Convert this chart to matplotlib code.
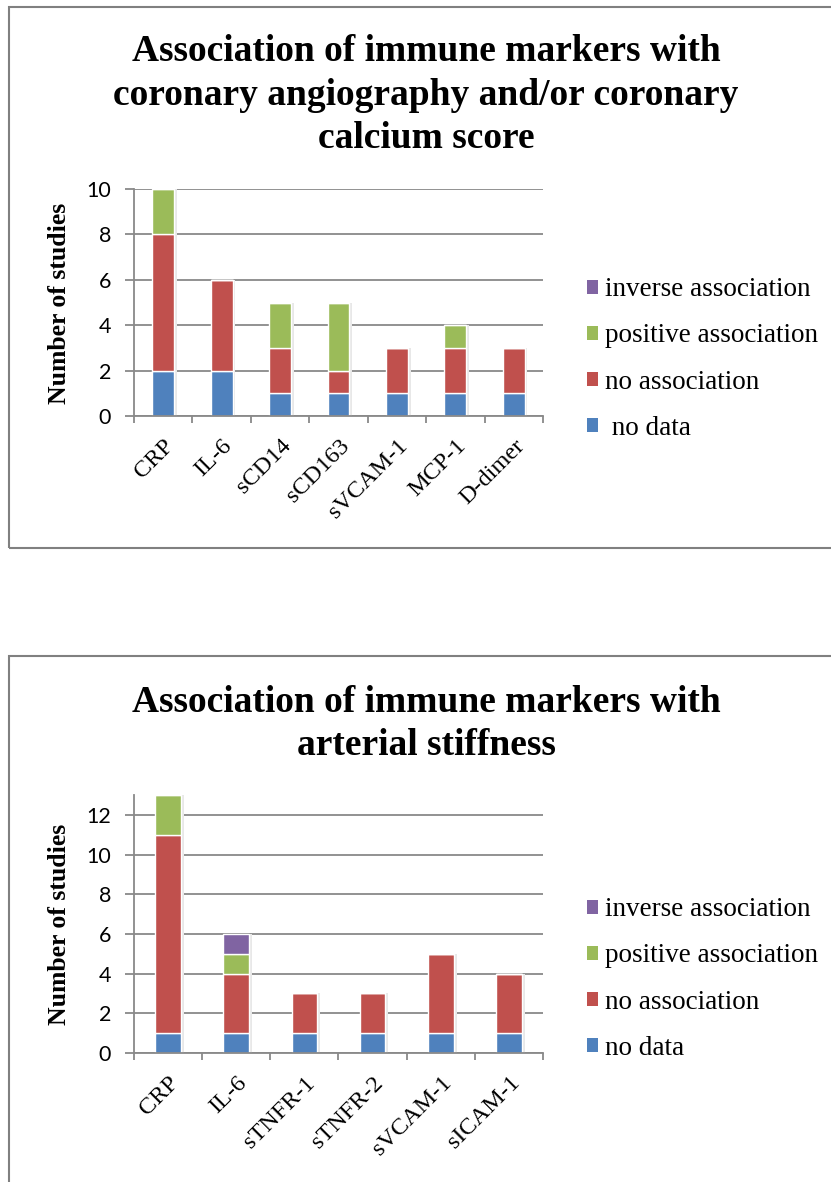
import numpy as np
import matplotlib
matplotlib.use("Agg")
import matplotlib.pyplot as plt
from matplotlib.patches import Patch, Rectangle

# ---- data ----
series_names = ["no data", "no association", "positive association", "inverse association"]
series_colors = ["#4F81BD", "#C0504D", "#9BBB59", "#8064A2"]

cac_markers = ["CRP", "IL-6", "sCD14", "sCD163", "sVCAM-1", "MCP-1", "D-dimer"]
cac_no_data = [2, 2, 1, 1, 1, 1, 1]
cac_no_assoc = [6, 4, 2, 1, 2, 2, 2]
cac_positive = [2, 0, 2, 3, 0, 1, 0]
cac_inverse = [0, 0, 0, 0, 0, 0, 0]

stiff_markers = ["CRP", "IL-6", "sTNFR-1", "sTNFR-2", "sVCAM-1", "sICAM-1"]
stiff_no_data = [1, 1, 1, 1, 1, 1]
stiff_no_assoc = [10, 3, 2, 2, 4, 3]
stiff_positive = [2, 1, 0, 0, 0, 0]
stiff_inverse = [0, 1, 0, 0, 0, 0]

W, H = 831, 1182
SERIF = "Liberation Serif"
SANS = "Lato"
GRID = "#898989"
BAR_W = 0.375

fig = plt.figure(figsize=(W / 100, H / 100), dpi=100)


def rect(x0, x1, ybot, ytop):
    return [x0 / W, 1 - ybot / H, (x1 - x0) / W, (ybot - ytop) / H]


def panel(ax_box, cats, stacks, ymax, yticks, title_lines, title_baselines,
          ylabel_y, legend_y, legend_labels, box_top, box_bottom):
    # outer frame of the panel
    fig.patches.append(Rectangle((9 / W, 1 - box_bottom / H), 1.0,
                                 (box_bottom - box_top) / H,
                                 transform=fig.transFigure, fill=False,
                                 edgecolor="#808080", linewidth=1.5))
    ax = fig.add_axes(ax_box)
    n = len(cats)
    x = np.arange(n)
    totals = np.sum(np.asarray(stacks, dtype=float), axis=0)
    # soft drop shadow to the right of each column
    ax.bar(x + 0.045, totals, width=BAR_W, color="#e8e8e8", linewidth=0,
           zorder=2)
    bottom = np.zeros(n)
    for vals, col in zip(stacks, series_colors):
        vals = np.asarray(vals, dtype=float)
        ax.bar(x, vals, width=BAR_W, bottom=bottom, color=col,
               edgecolor="white", linewidth=1.0, zorder=3)
        bottom += vals
    ax.set_xlim(-0.5, n - 0.5)
    ax.set_ylim(0, ymax)
    ax.set_yticks(yticks)
    ax.set_yticklabels([str(t) for t in yticks], fontsize=15.5, family=SANS)
    for t in yticks:
        ax.axhline(t, color=GRID, linewidth=1.3, zorder=1)
    ax.set_xticks(np.arange(n + 1) - 0.5)
    ax.set_xticklabels([""] * (n + 1))
    ax.set_xticks(x, minor=True)
    ax.set_xticklabels(cats, minor=True, rotation=45, ha="right", va="top",
                       rotation_mode="anchor", fontsize=17.5, family=SERIF)
    ax.tick_params(axis="x", which="major", length=5, width=1.3, color=GRID,
                   direction="out")
    ax.tick_params(axis="x", which="minor", length=0, pad=14)
    ax.tick_params(axis="y", length=6.5, width=1.3, color=GRID, pad=10)
    for s in ("top", "right"):
        ax.spines[s].set_visible(False)
    for s in ("left", "bottom"):
        ax.spines[s].set_color(GRID)
        ax.spines[s].set_linewidth(1.3)
        ax.spines[s].set_zorder(4)
    ax.set_facecolor("none")

    for line, base in zip(title_lines, title_baselines):
        fig.text(426 / W, 1 - base / H, line, ha="center", va="baseline",
                 fontsize=27, fontweight="bold", family=SERIF)
    fig.text(59 / W, 1 - ylabel_y / H, "Number of studies", rotation=90,
             ha="center", va="center", fontsize=18.5, fontweight="bold",
             family=SERIF)

    handles = [Patch(facecolor=c) for c in series_colors][::-1]
    fig.legend(handles, legend_labels[::-1], loc="center left",
               bbox_to_anchor=(587 / W, 1 - legend_y / H),
               frameon=False, handlelength=0.42, handleheight=0.42,
               handletextpad=0.25, labelspacing=0.78, borderpad=0,
               borderaxespad=0, prop={"family": SERIF, "size": 19.5})
    return ax


panel(rect(134, 543, 416, 189), cac_markers,
      [cac_no_data, cac_no_assoc, cac_positive, cac_inverse],
      10, list(range(0, 11, 2)),
      ["Association of immune markers with",
       "coronary angiography and/or coronary",
       "calcium score"],
      [61, 105, 148], 303, 359,
      [" no data", "no association", "positive association", "inverse association"],
      7, 548)

panel(rect(134, 543, 1053, 795), stiff_markers,
      [stiff_no_data, stiff_no_assoc, stiff_positive, stiff_inverse],
      13, list(range(0, 13, 2)),
      ["Association of immune markers with", "arterial stiffness"],
      [712, 755], 924, 979,
      series_names, 656, 1200)

fig.savefig("out.png", dpi=100)
